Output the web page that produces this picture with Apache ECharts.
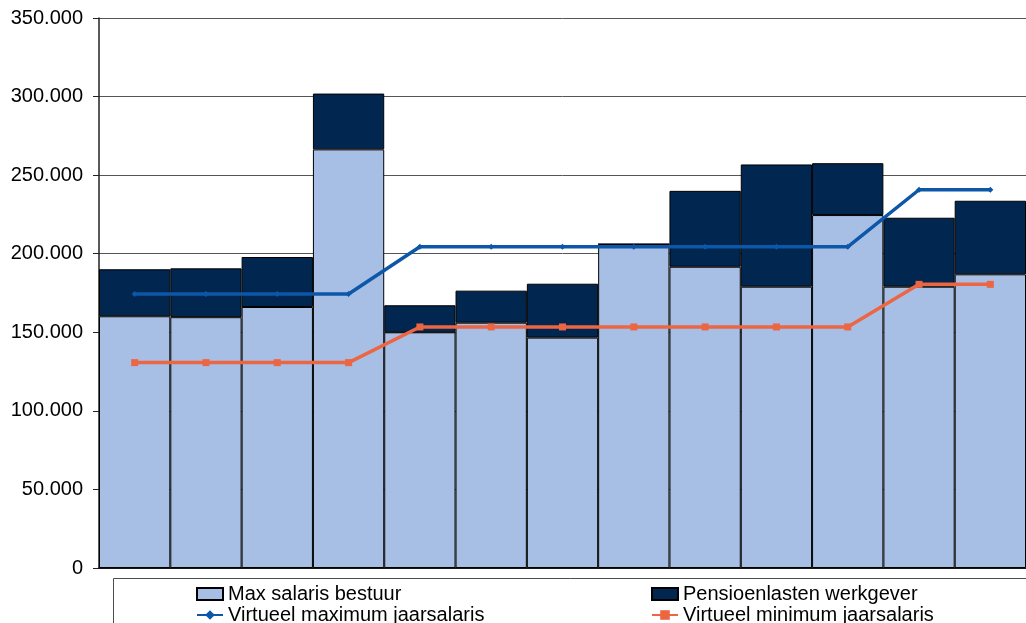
<!DOCTYPE html>
<html>
<head>
<meta charset="utf-8">
<script src="https://cdn.jsdelivr.net/npm/echarts@6/dist/echarts.min.js"></script>
<style>
  html, body { margin: 0; padding: 0; background: #ffffff; }
  #chart { width: 1026px; height: 623px; }
</style>
</head>
<body>
<div id="chart"></div>
<script>
// Thirteen periods, in chronological order
const categories = ['1', '2', '3', '4', '5', '6', '7', '8', '9', '10', '11', '12', '13'];

// Stacked bar values (euro)
const maxSalaris = [160200, 159600, 166100, 266400, 150000, 156100, 146600, 206100, 191700, 179000, 224600, 179000, 186900];
const pensioenlasten = [29900, 31100, 31800, 35500, 17200, 20400, 34300, 0, 48300, 77800, 33000, 43900, 46800];

// Virtual salary bounds (euro)
const virtueelMax = [174400, 174400, 174400, 174400, 204400, 204400, 204400, 204400, 204400, 204400, 204400, 240700, 240700];
const virtueelMin = [130700, 130700, 130700, 130700, 153400, 153400, 153400, 153400, 153400, 153400, 153400, 180500, 180500];

// Y axis
const yMin = 0, yMax = 350000, yStep = 50000;

const seriesNames = ['Max salaris bestuur', 'Pensioenlasten werkgever', 'Virtueel maximum jaarsalaris', 'Virtueel minimum jaarsalaris'];

const fmt = v => v === 0 ? '0' : String(v).replace(/\B(?=(\d{3})+(?!\d))/g, '.');

const chart = echarts.init(document.getElementById('chart'), null, { renderer: 'canvas' });

const legendText = { fontFamily: 'Liberation Sans, Arial, sans-serif', fontSize: 20, color: '#000', lineHeight: 18 };

chart.setOption({
  animation: false,
  backgroundColor: '#ffffff',
  grid: { left: 99, top: 18, bottom: 55, right: -6, containLabel: false },
  graphic: [{
    type: 'rect',
    shape: { x: 113.5, y: 578.5, width: 1000, height: 100 },
    style: { fill: '#ffffff', stroke: '#4d4d4d', lineWidth: 1 },
    z: 0
  }],
  legend: [{
    orient: 'vertical',
    left: 196, top: 584, height: 80,
    itemWidth: 26, itemHeight: 12,
    itemGap: 1,
    padding: 0,
    data: [{ name: seriesNames[0], icon: 'rect' }, { name: seriesNames[2] }],
    textStyle: legendText
  }, {
    orient: 'vertical',
    left: 651, top: 584, height: 80,
    itemWidth: 26, itemHeight: 12,
    itemGap: 1,
    padding: 0,
    data: [{ name: seriesNames[1], icon: 'rect' }, { name: seriesNames[3] }],
    textStyle: legendText
  }],
  xAxis: {
    type: 'category',
    data: categories,
    boundaryGap: true,
    axisLine: { show: true, lineStyle: { color: '#000', width: 1.5 } },
    axisTick: { show: false },
    axisLabel: { show: false },
    splitLine: { show: false }
  },
  yAxis: {
    type: 'value',
    min: yMin, max: yMax, interval: yStep,
    axisLine: { show: true, lineStyle: { color: '#222', width: 1.5 } },
    axisTick: { show: true, length: 6, lineStyle: { color: '#222', width: 1 } },
    axisLabel: {
      margin: 16,
      formatter: fmt,
      fontFamily: 'Liberation Sans, Arial, sans-serif',
      fontSize: 20,
      color: '#000'
    },
    splitLine: { show: true, lineStyle: { color: '#555', width: 1 } }
  },
  series: [{
    name: seriesNames[0],
    type: 'bar',
    stack: 'total',
    data: maxSalaris,
    barWidth: '100%',
    barCategoryGap: '0%',
    barGap: '0%',
    itemStyle: { color: '#A7BFE5', borderColor: '#000', borderWidth: 1 },
    z: 2
  }, {
    name: seriesNames[1],
    type: 'bar',
    stack: 'total',
    data: pensioenlasten,
    barWidth: '100%',
    barCategoryGap: '0%',
    barGap: '0%',
    itemStyle: { color: '#012650', borderColor: '#000', borderWidth: 1 },
    z: 2
  }, {
    name: seriesNames[2],
    type: 'line',
    data: virtueelMax,
    symbol: 'diamond',
    symbolSize: 6,
    lineStyle: { color: '#0D57A8', width: 3.5 },
    itemStyle: { color: '#0D57A8' },
    z: 5
  }, {
    name: seriesNames[3],
    type: 'line',
    data: virtueelMin,
    symbol: 'rect',
    symbolSize: 7,
    lineStyle: { color: '#EC6644', width: 3.5 },
    itemStyle: { color: '#EC6644' },
    z: 5
  }]
});
</script>
</body>
</html>
